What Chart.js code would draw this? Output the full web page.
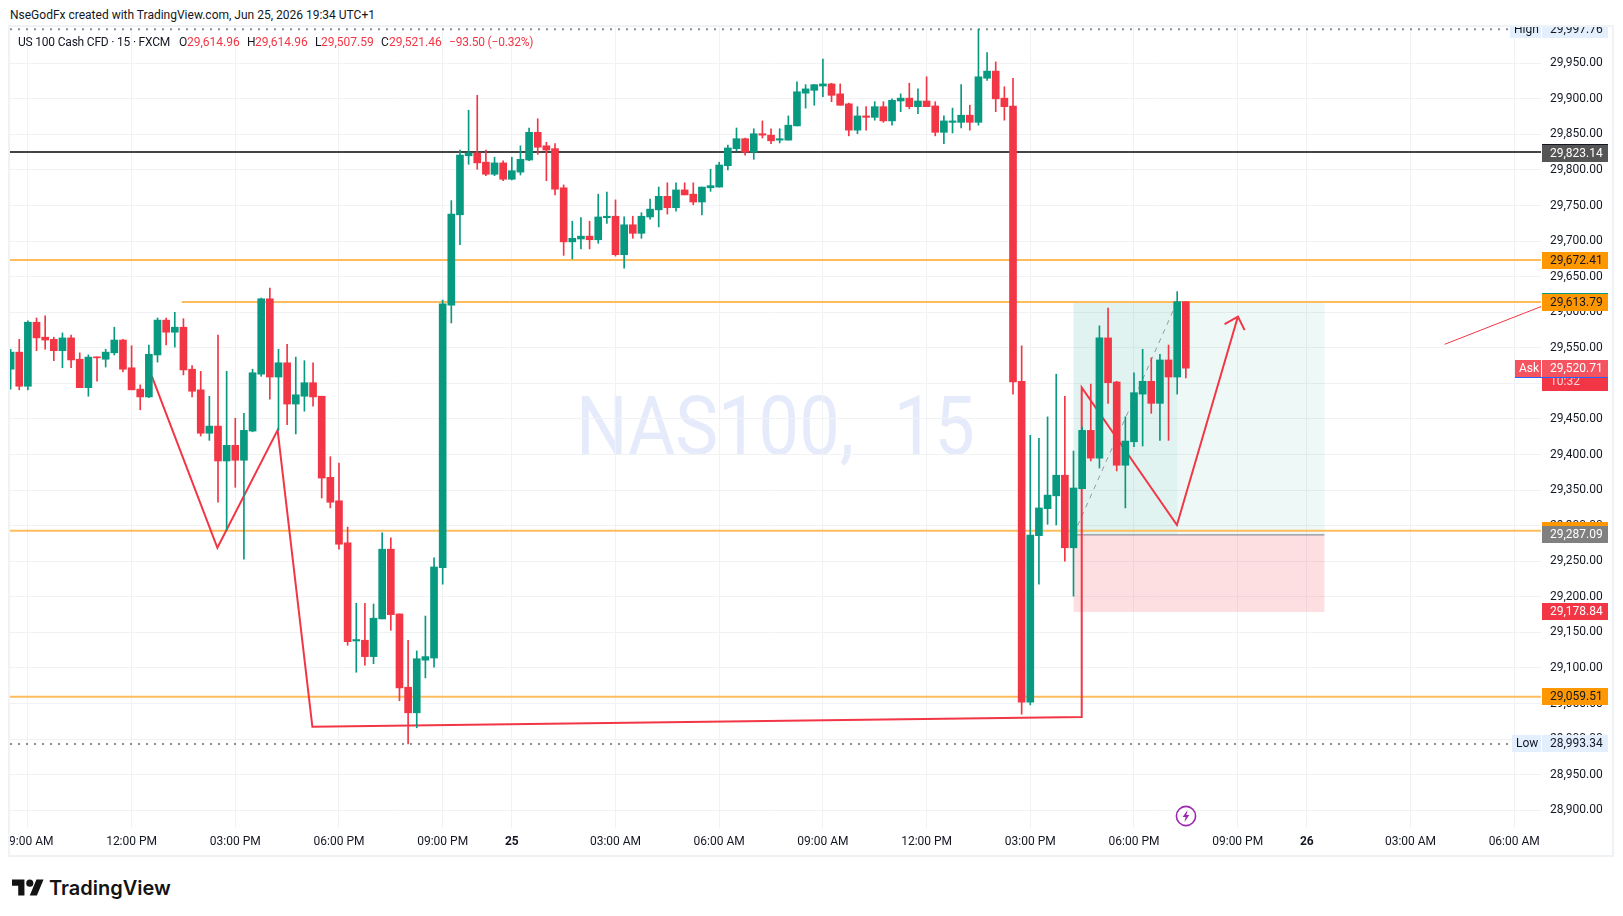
<!DOCTYPE html>
<html>
<head>
<meta charset="utf-8">
<title>NAS100, 15</title>
<script src="https://cdn.jsdelivr.net/npm/chart.js@4"></script>
<style>
  body { margin: 0; background: #fff; width: 1623px; height: 916px; overflow: hidden; position: relative; font-family: Roboto, sans-serif; font-size: 12px; color: #131722; }
  .txt { position: absolute; white-space: nowrap; line-height: 14px; }
  .red { color: #f23645; }
  #frame { position: absolute; left: 8px; top: 25px; width: 1602px; height: 828px; border: 2px solid #f0f3f5; }
  #watermark { position: absolute; left: 576px; top: 381px; font-size: 82px; line-height: 90px; color: #e6ebfc; white-space: nowrap; word-spacing: 25px; transform: scaleX(.88); transform-origin: left top; }
  #myChart { position: absolute; left: 10px; top: 27px; }
</style>
</head>
<body>
<div id="frame"></div>
<div id="watermark">NAS100, 15</div>
<canvas id="myChart" width="1602" height="828"></canvas>

<div class="txt" style="left:10px;top:8px">NseGodFx created with TradingView.com, Jun 25, 2026 19:34 UTC+1</div>
<div class="txt" style="left:18px;top:35px;letter-spacing:-.2px">US 100 Cash CFD · 15 · FXCM</div>
<div class="txt" style="left:179px;top:35px">O</div><div class="txt red" style="left:187px;top:35px">29,614.96</div>
<div class="txt" style="left:247px;top:35px">H</div><div class="txt red" style="left:255px;top:35px">29,614.96</div>
<div class="txt" style="left:315px;top:35px">L</div><div class="txt red" style="left:321px;top:35px">29,507.59</div>
<div class="txt" style="left:381px;top:35px">C</div><div class="txt red" style="left:389px;top:35px">29,521.46</div>
<div class="txt red" style="left:449px;top:35px;letter-spacing:-.2px">−93.50 (−0.32%)</div>

<svg style="position:absolute;left:1175px;top:805px" width="22" height="22" viewBox="0 0 22 22">
  <circle cx="11" cy="11" r="9.6" fill="#fff" stroke="#9c27b0" stroke-width="1.6"/>
  <path d="M12.6 5 L7.6 12 H10.6 L9.4 17 L14.4 10 H11.4 Z" fill="#9c27b0"/>
</svg>

<svg style="position:absolute;left:12px;top:876px" width="32" height="25" viewBox="0 0 36 28">
  <path d="M14 22H7V11H0V4h14v18zM28 22h-8l7.5-18h8L28 22z" fill="#131313"/><circle cx="20" cy="8" r="4" fill="#131313"/>
</svg>
<div class="txt" style="left:49px;top:875px;font-family:Inter,sans-serif;font-weight:600;font-size:20px;line-height:26px;color:#131313">TradingView</div>

<script>
// one entry per 15 minute bar
const opens = [29520,29544,29496,29586,29565,29562,29546,29564,29534,29494,
  29537,29534,29543,29561,29522,29492,29481,29540,29589,29572,
  29579,29520,29491,29430,29440,29391,29413,29392,29433,29513,
  29619,29509,29529,29471,29482,29501,29482,29368,29335,29276,
  29138,29139,29116,29169,29267,29176,29073,29037,29111,29114,
  29241,29610,29737,29820,29824,29811,29794,29810,29787,29797,
  29814,29853,29834,29830,29775,29699,29703,29707,29702,29733,
  29735,29681,29723,29711,29734,29744,29763,29747,29772,29766,
  29755,29775,29776,29806,29830,29844,29825,29851,29849,29842,
  29842,29862,29908,29912,29918,29921,29907,29893,29856,29876,
  29874,29889,29869,29897,29901,29889,29897,29890,29853,29867,
  29867,29877,29867,29929,29939,29901,29890,29503,29052,29286,
  29324,29342,29371,29269,29352,29434,29395,29564,29502,29385,
  29418,29485,29503,29472,29533,29509,29614.96];
const highs = [29548,29562,29588,29592,29595,29565,29571,29568,29543,29540,
  29537,29548,29579,29562,29553,29498,29554,29592,29592,29600,
  29591,29525,29517,29482,29568,29517,29451,29458,29520,29620,
  29634,29548,29555,29537,29532,29529,29482,29397,29388,29298,
  29191,29191,29190,29290,29283,29176,29139,29124,29173,29255,
  29617,29757,29828,29884,29905,29828,29818,29813,29818,29834,
  29859,29872,29839,29837,29779,29728,29733,29728,29766,29769,
  29758,29734,29735,29740,29759,29776,29782,29782,29782,29782,
  29776,29801,29811,29835,29859,29845,29858,29869,29858,29858,
  29876,29924,29920,29920,29956,29922,29921,29894,29889,29889,
  29896,29896,29900,29907,29922,29914,29931,29896,29876,29887,
  29920,29891,29997.76,29965,29952,29917,29929,29553,29427,29423,
  29453,29513,29482,29405,29439,29499,29581,29606,29503,29453,
  29515,29548,29536,29541,29554,29629,29614.96];
const lows = [29492,29491,29491,29546,29548,29532,29522,29522,29494,29482,
  29503,29523,29540,29516,29491,29463,29480,29530,29554,29551,
  29512,29481,29426,29420,29333,29294,29354,29253,29432,29510,
  29478,29434,29442,29429,29461,29468,29339,29325,29267,29132,
  29094,29104,29106,29169,29153,29054,28993.34,29016,29086,29101,
  29218,29585,29695,29808,29801,29792,29792,29785,29786,29793,
  29813,29822,29785,29765,29680,29675,29689,29689,29697,29725,
  29679,29662,29704,29704,29731,29720,29738,29742,29765,29751,
  29737,29770,29776,29800,29827,29821,29815,29845,29837,29838,
  29842,29862,29887,29891,29903,29896,29891,29848,29851,29856,
  29870,29867,29863,29882,29886,29879,29889,29848,29837,29852,
  29859,29856,29863,29926,29882,29870,29485,29035,29048,29218,
  29302,29301,29250,29201,29352,29391,29381,29472,29377,29325,
  29411,29412,29458,29420,29420,29485,29507.59];
const closes = [29544,29496,29586,29564,29561,29546,29564,29533,29494,29537,
  29536,29544,29561,29520,29491,29481,29541,29589,29572,29579,
  29519,29489,29430,29440,29391,29413,29392,29434,29515,29619,
  29509,29529,29471,29484,29501,29481,29367,29333,29274,29137,
  29140,29116,29170,29267,29175,29072,29037,29113,29116,29242,
  29612,29738,29821,29824,29810,29794,29810,29787,29799,29815,
  29853,29832,29828,29773,29699,29704,29707,29702,29734,29735,
  29681,29723,29711,29735,29745,29763,29747,29772,29765,29755,
  29776,29778,29807,29831,29844,29825,29851,29849,29841,29844,
  29863,29910,29914,29920,29921,29905,29891,29856,29876,29874,
  29889,29869,29898,29901,29889,29897,29889,29853,29869,29869,
  29877,29867,29931,29939,29900,29889,29502,29052,29287,29325,
  29343,29371,29269,29353,29434,29395,29564,29501,29385,29419,
  29487,29503,29472,29533,29509,29615,29521.46];

const barIndexes = opens.map((o, i) => i);

// axes
const timeTickBars = [2,14,26,38,50,58,70,82,94,106,118,130,142,150,162,174];
const timeTickLabels = ["09:00 AM","12:00 PM","03:00 PM","06:00 PM","09:00 PM","25","03:00 AM","06:00 AM","09:00 AM","12:00 PM","03:00 PM","06:00 PM","09:00 PM","26","03:00 AM","06:00 AM"];
const priceTicks = [28900,28950,29000,29050,29100,29150,29200,29250,29300,29350,29400,29450,29500,29550,29600,29650,29700,29750,29800,29850,29900,29950];

// level labels on the axis
const blackLevel = 29823.14;
const orangeLevels = [29672.41, 29293, 29059.51];
const shortOrangeLevel = 29613.79;
const highPrice = 29997.76;
const lowPrice = 28993.34;
const askPrice = 29520.71;

// where the level lines really sit in the picture, a touch above their labels
const blackLine = 29825.3;
const orangeLines = [29673.5, 29293, 29059.51];
const shortOrangeLine = 29614.6;
const shortOrangeStartBar = 19.8;

// hand drawn path
const pathBars = [16.35,23.93,30.9,34.92,123.95,123.95,134.97,142.03];
const pathPrices = [29510,29269,29434.5,29017.5,29031,29494.5,29301,29594];
const arrowBars = [140.49,142.03,142.8];
const arrowPrices = [29583.5,29594,29575];
const noteBars = [165.95,177.1];
const notePrices = [29555,29608];

// long position tool
const longStartBar = 123;
const longLastBar = 135;
const longEndBar = 152.04;
const longEntry = 29287.09;
const longTarget = 29615;
const longStop = 29178.84;

const GREEN = "#089981";
const RED = "#f23645";
const ORANGE_LINE = "#ffbc5e";
const ORANGE_CHIP = "#ff9800";

const fmt = (v) => v.toLocaleString("en-US", { minimumFractionDigits: 2, maximumFractionDigits: 2 });
const candleColors = opens.map((o, i) => (closes[i] >= o ? GREEN : RED));
const points = (xs, ys) => xs.map((x, i) => ({ x: x, y: ys[i] }));

const lineSet = (data, color, width, order, dash) => ({
  type: "line",
  data: data,
  borderColor: color,
  borderWidth: width,
  borderDash: dash || [],
  pointRadius: 0,
  tension: 0,
  order: order,
});

const X_MIN = -0.07;
const X_MAX = 177.1;

const longPosition = {
  id: "longPosition",
  beforeDatasetsDraw(chart) {
    const { ctx, scales: { x, y } } = chart;
    const left = x.getPixelForValue(longStartBar);
    const right = x.getPixelForValue(longEndBar);
    const mid = x.getPixelForValue(longLastBar);
    const top = y.getPixelForValue(longTarget);
    const entry = y.getPixelForValue(longEntry);
    const stop = y.getPixelForValue(longStop);
    ctx.save();
    ctx.fillStyle = "rgba(8,153,129,0.07)";
    ctx.fillRect(left, top, right - left, entry - top);
    ctx.fillStyle = "rgba(8,153,129,0.05)";
    ctx.fillRect(left, top, mid - left, entry - top);
    ctx.fillStyle = "rgba(242,54,69,0.16)";
    ctx.fillRect(left, entry, right - left, stop - entry);
    ctx.restore();
  },
};

// price chips on the right axis
const chips = [
  { value: highPrice, fill: "#e3effd", color: "#131722", side: "High" },
  { value: blackLevel, fill: "#555555", color: "#ffffff", topBar: "#131722" },
  { value: orangeLevels[0], fill: ORANGE_CHIP, color: "#131722" },
  { value: shortOrangeLevel, fill: ORANGE_CHIP, color: "#131722", topBar: GREEN },
  { value: orangeLevels[1], fill: ORANGE_CHIP, color: ORANGE_CHIP },
  { value: longEntry, fill: "#808080", color: "#ffffff" },
  { value: longStop, fill: RED, color: "#ffffff" },
  { value: orangeLevels[2], fill: ORANGE_CHIP, color: "#131722" },
  { value: lowPrice, fill: "#e3effd", color: "#131722", side: "Low" },
];

const priceChips = {
  id: "priceChips",
  afterDraw(chart) {
    const { ctx, chartArea, scales: { y } } = chart;
    const left = chartArea.right + 1;
    const w = 66;
    const h = 17;
    ctx.save();
    ctx.font = "12px Roboto";
    ctx.textBaseline = "middle";
    ctx.textAlign = "left";
    chips.forEach((c) => {
      const py = y.getPixelForValue(c.value);
      const top = Math.round(py - h / 2);
      ctx.fillStyle = c.fill;
      ctx.fillRect(left, top, w, h);
      if (c.topBar) {
        ctx.fillStyle = c.topBar;
        ctx.fillRect(left, top - 1, w, 1);
      }
      ctx.fillStyle = c.color;
      ctx.fillText(fmt(c.value), left + 8, top + h / 2 + 0.5);
      if (c.side) {
        const sw = c.side === "High" ? 31 : 29;
        ctx.fillStyle = c.fill;
        ctx.fillRect(left - sw - 1, top, sw, h);
        ctx.fillStyle = c.color;
        ctx.fillText(c.side, left - sw + 3, top + h / 2 + 0.5);
      }
    });

    // live price with the countdown tucked under it
    const askY = Math.round(y.getPixelForValue(askPrice) - h / 2);
    ctx.fillStyle = RED;
    ctx.fillRect(left, askY + h, w, 14);
    ctx.fillStyle = "#fbd5d8";
    ctx.fillText("10:32", left + 8, askY + h + 5);
    ctx.fillStyle = "#f5535f";
    ctx.fillRect(left, askY, w, h);
    ctx.fillRect(left - 27, askY, 26, h);
    ctx.fillStyle = "#ffffff";
    ctx.fillText(fmt(askPrice), left + 8, askY + h / 2 + 0.5);
    ctx.fillText("Ask", left - 23, askY + h / 2 + 0.5);
    ctx.fillStyle = "#2962ff";
    ctx.fillRect(left - 27, askY + h, w + 27, 1);
    ctx.restore();
  },
};

new Chart(document.getElementById("myChart"), {
  type: "bar",
  data: {
    datasets: [
      {
        label: "body",
        data: barIndexes.map((i) => ({ x: i, y: [opens[i], closes[i]] })),
        backgroundColor: candleColors,
        barThickness: 7,
        minBarLength: 1,
        grouped: false,
        order: 1,
      },
      {
        label: "wick",
        data: barIndexes.map((i) => ({ x: i, y: [lows[i], highs[i]] })),
        backgroundColor: candleColors,
        barThickness: 1,
        grouped: false,
        order: 2,
      },
      lineSet(points(pathBars, pathPrices), RED, 2, 3),
      lineSet(points(arrowBars, arrowPrices), RED, 2, 3),
      lineSet(points(noteBars, notePrices), RED, 1, 3),
      lineSet(points([longStartBar, longLastBar], [longEntry, longTarget]), "#9598a1", 1, 4, [5, 5]),
      lineSet(points([longStartBar, longEndBar], [longEntry, longEntry]), "#787b86", 1, 4),
      lineSet(points([X_MIN, X_MAX], [blackLine, blackLine]), "#444444", 2, 5),
      lineSet(points([X_MIN, X_MAX], [orangeLines[0], orangeLines[0]]), ORANGE_LINE, 2, 5),
      lineSet(points([X_MIN, X_MAX], [orangeLines[1], orangeLines[1]]), ORANGE_LINE, 2, 5),
      lineSet(points([X_MIN, X_MAX], [orangeLines[2], orangeLines[2]]), ORANGE_LINE, 2, 5),
      lineSet(points([shortOrangeStartBar, X_MAX], [shortOrangeLine, shortOrangeLine]), ORANGE_LINE, 2, 5),
      lineSet(points([X_MIN, 173.6], [highPrice, highPrice]), "#8a8d96", 2, 6, [2, 6]),
      lineSet(points([X_MIN, 173.6], [lowPrice, lowPrice]), "#8a8d96", 2, 6, [2, 6]),
    ],
  },
  options: {
    responsive: false,
    animation: false,
    devicePixelRatio: 1,
    layout: { padding: 0 },
    font: { family: "Roboto" },
    plugins: { legend: { display: false }, tooltip: { enabled: false } },
    scales: {
      x: {
        type: "linear",
        offset: false,
        min: X_MIN,
        max: X_MAX,
        grid: { color: "#f1f2f3", drawTicks: false, offset: false },
        border: { display: false },
        afterBuildTicks: (s) => { s.ticks = timeTickBars.map((v) => ({ value: v })); },
        afterFit: (s) => { s.height = 27; s.paddingLeft = 0; s.paddingRight = 0; },
        ticks: {
          autoSkip: false,
          maxRotation: 0,
          padding: 7,
          color: "#131722",
          font: (c) => {
            const label = timeTickLabels[timeTickBars.indexOf(c.tick && c.tick.value)];
            return { family: "Roboto", size: 12, weight: label && label.length === 2 ? "bold" : "normal" };
          },
          callback: (v) => timeTickLabels[timeTickBars.indexOf(v)],
        },
      },
      y: {
        position: "right",
        min: 28875.1,
        max: 30001,
        grid: { color: "#f1f2f3", drawTicks: false },
        border: { display: false },
        afterBuildTicks: (s) => { s.ticks = priceTicks.map((v) => ({ value: v })); },
        afterFit: (s) => { s.width = 71; s.paddingTop = 0; s.paddingBottom = 0; },
        ticks: {
          autoSkip: false,
          padding: 9,
          color: "#131722",
          font: { family: "Roboto", size: 12 },
          callback: (v) => fmt(v),
        },
      },
    },
  },
  plugins: [longPosition, priceChips],
});
</script>
</body>
</html>
